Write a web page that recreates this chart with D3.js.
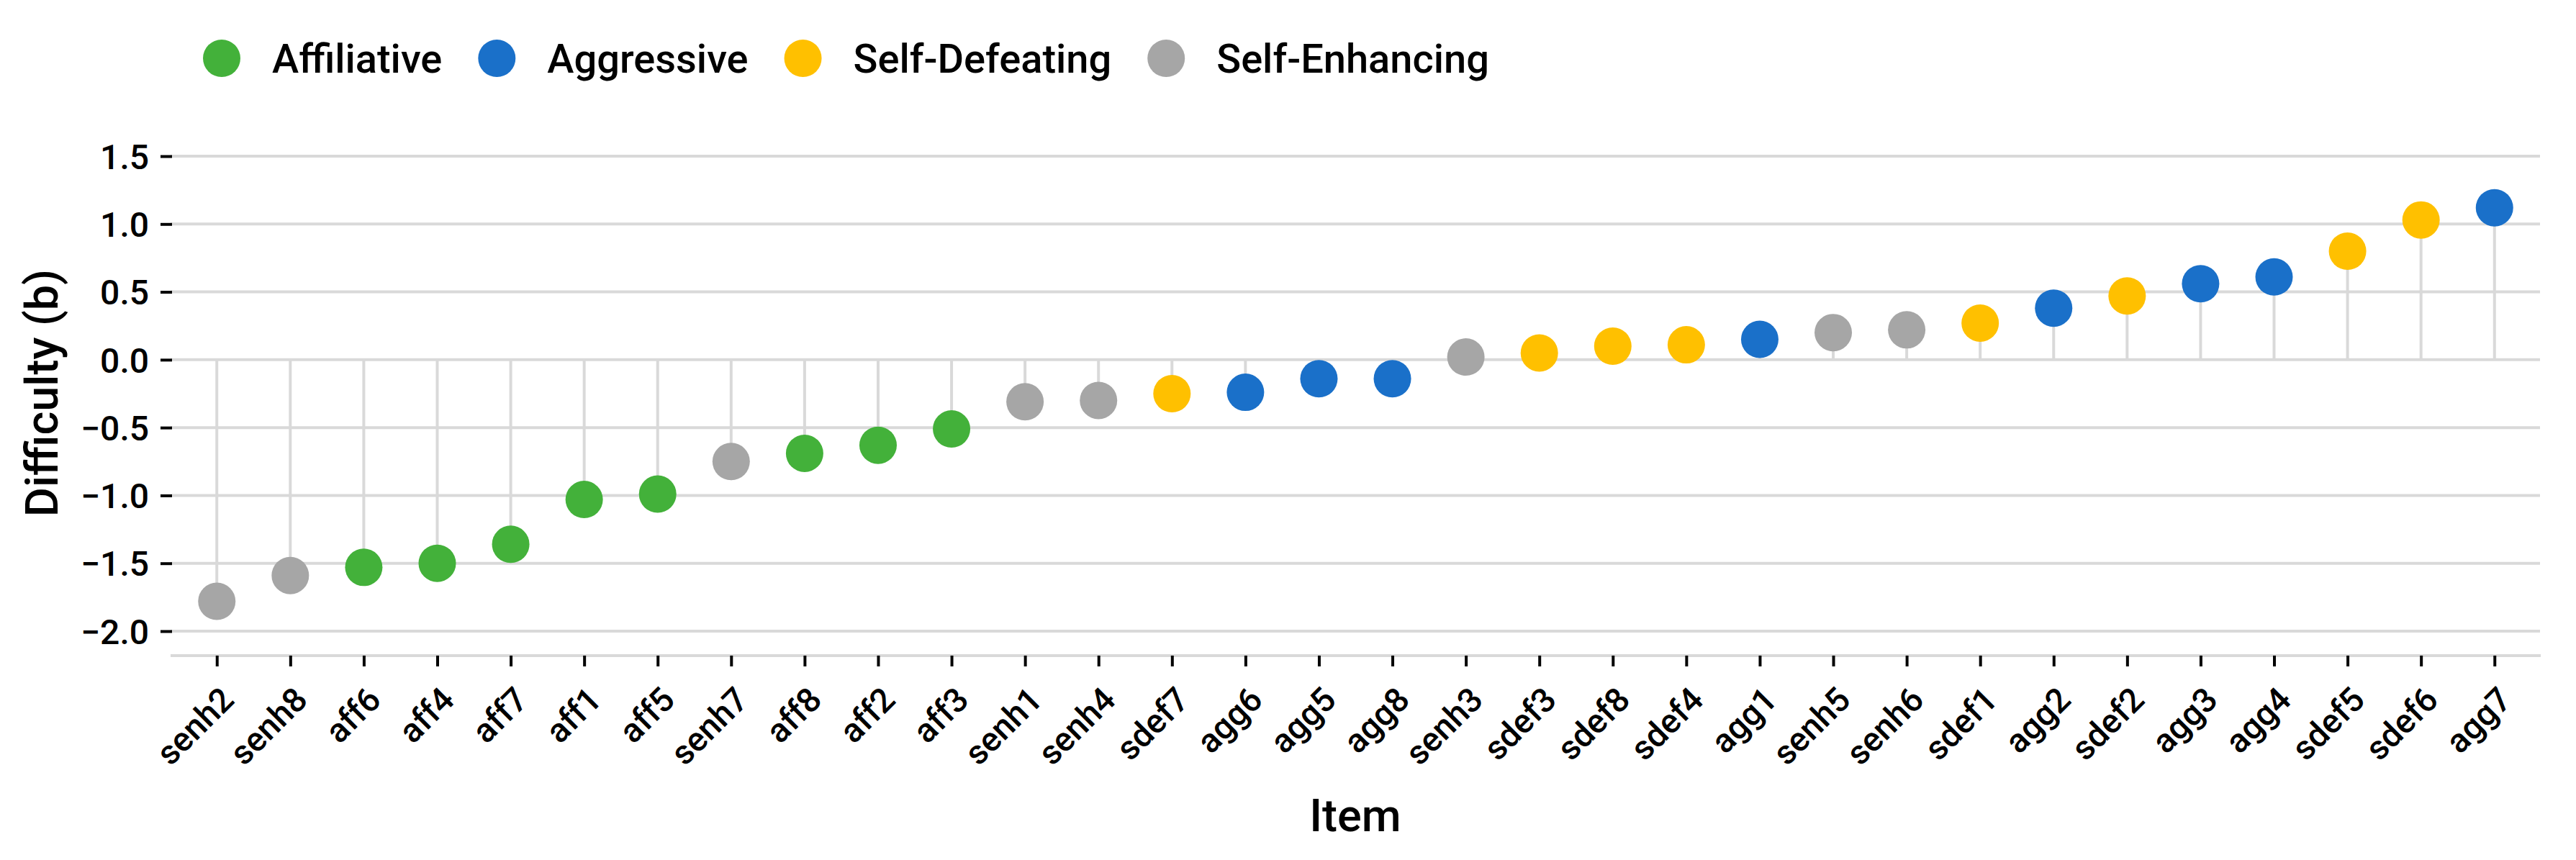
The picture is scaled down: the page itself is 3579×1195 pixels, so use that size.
<!DOCTYPE html>
<meta charset="utf-8">
<style>
body { margin: 0; background: #fff; }
text { font-family: Roboto, "Noto Sans", sans-serif; font-weight: 500; fill: #000; }
</style>
<body>
<div id="chart"></div>
<script src="https://cdn.jsdelivr.net/npm/d3@7"></script>
<script>

// items, sorted by difficulty as in the figure
var items = ["senh2","senh8","aff6","aff4","aff7","aff1","aff5","senh7","aff8","aff2","aff3",
             "senh1","senh4","sdef7","agg6","agg5","agg8","senh3","sdef3","sdef8","sdef4",
             "agg1","senh5","senh6","sdef1","agg2","sdef2","agg3","agg4","sdef5","sdef6","agg7"];

var difficulty = [-1.78,-1.59,-1.53,-1.50,-1.36,-1.03,-0.99,-0.75,-0.69,-0.63,-0.51,
                  -0.31,-0.30,-0.25,-0.24,-0.14,-0.14,0.02,0.05,0.10,0.11,
                  0.15,0.20,0.22,0.27,0.38,0.47,0.56,0.61,0.80,1.03,1.12];

var categories = ["Affiliative","Aggressive","Self-Defeating","Self-Enhancing"];
var prefixes   = ["aff","agg","sdef","senh"];
var colours    = ["#43b13a","#1a70c9","#ffc000","#a6a6a6"];

var yTicks = [-2.0,-1.5,-1.0,-0.5,0.0,0.5,1.0,1.5];

var W = 3579, H = 1195;
var axisY = 911, plotLeft = 237, plotRight = 3529;

var data = items.map(function(d, i) {
  var cat = categories[prefixes.findIndex(function(p) { return d.indexOf(p) === 0; })];
  return {item: d, b: difficulty[i], scale: cat};
});

var svg = d3.select("#chart").append("svg")
    .attr("width", W)
    .attr("height", H);

var x = d3.scalePoint().domain(items).range([240, 3527]).padding(0.6);
var y = d3.scaleLinear().domain([-2, 1.5]).range([877, 217]);
var colour = d3.scaleOrdinal().domain(categories).range(colours);

// grid
svg.append("g")
  .selectAll("line")
  .data(yTicks)
  .enter().append("line")
    .attr("x1", plotLeft)
    .attr("x2", plotRight)
    .attr("y1", function(d) { return y(d); })
    .attr("y2", function(d) { return y(d); })
    .style("stroke", "#d9d9d9")
    .style("stroke-width", 4);

// y axis
var yAxis = svg.append("g")
    .attr("transform", "translate(" + (plotLeft + 2) + ",0)")
    .call(d3.axisLeft(y).tickValues(yTicks).tickSize(16).tickPadding(16).tickFormat(d3.format(".1f")));
yAxis.select(".domain").remove();
yAxis.selectAll(".tick line").style("stroke", "#000").style("stroke-width", 4);
yAxis.selectAll(".tick text")
    .style("font-family", "Roboto, sans-serif")
    .style("font-weight", 500)
    .style("font-size", "48px")
    .attr("dy", "0.36em");

// x axis
var xAxis = svg.append("g")
    .attr("transform", "translate(0," + axisY + ")")
    .call(d3.axisBottom(x).tickSize(15).tickSizeOuter(0));
xAxis.select(".domain").remove();
xAxis.insert("line", ":first-child")
    .attr("x1", plotLeft)
    .attr("x2", plotRight + 1)
    .style("stroke", "#d9d9d9")
    .style("stroke-width", 4);
xAxis.selectAll(".tick line").style("stroke", "#000").style("stroke-width", 4);
xAxis.selectAll(".tick text")
    .style("font-family", "Roboto, sans-serif")
    .style("font-weight", 500)
    .style("font-size", "47px")
    .style("text-anchor", "end")
    .attr("x", 0)
    .attr("y", 0)
    .attr("dy", 0)
    .attr("transform", "translate(26,64) rotate(-45)");

// stems
svg.append("g")
  .selectAll("line")
  .data(data)
  .enter().append("line")
    .attr("x1", function(d) { return x(d.item); })
    .attr("x2", function(d) { return x(d.item); })
    .attr("y1", y(0))
    .attr("y2", function(d) { return y(d.b); })
    .style("stroke", "#d9d9d9")
    .style("stroke-width", 4);

// dots
svg.append("g")
  .selectAll("circle")
  .data(data)
  .enter().append("circle")
    .attr("cx", function(d) { return x(d.item); })
    .attr("cy", function(d) { return y(d.b); })
    .attr("r", 26)
    .attr("fill", function(d) { return colour(d.scale); });

// axis titles
svg.append("text")
    .attr("x", (plotLeft + plotRight) / 2)
    .attr("y", 1155)
    .style("text-anchor", "middle")
    .style("font-size", "63px")
    .text("Item");

svg.append("text")
    .attr("transform", "translate(80,546) rotate(-90)")
    .style("text-anchor", "middle")
    .style("font-size", "63px")
    .text("Difficulty (b)");

// legend
var legend = svg.append("g").attr("transform", "translate(0,81)");
var cx = 308;
categories.forEach(function(c) {
  legend.append("circle")
      .attr("cx", cx)
      .attr("cy", 0)
      .attr("r", 26)
      .attr("fill", colour(c));
  var t = legend.append("text")
      .attr("x", cx + 70)
      .attr("y", 20)
      .style("font-size", "56px")
      .text(c);
  cx = cx + 70 + t.node().getComputedTextLength() + 76;
});

</script>
</body>
